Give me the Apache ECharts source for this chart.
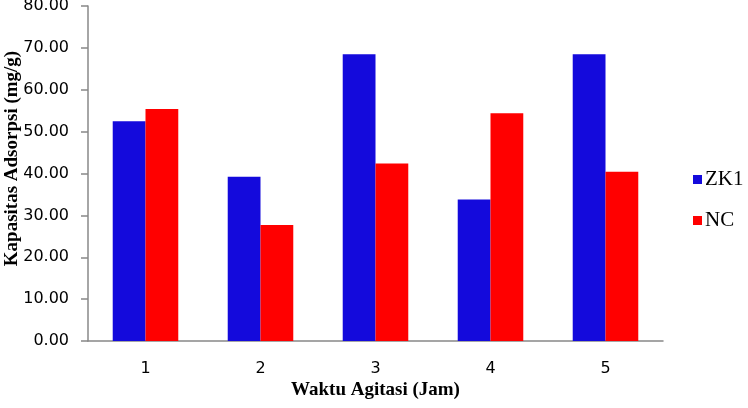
<!DOCTYPE html>
<html>
<head>
<meta charset="utf-8">
<script src="https://cdn.jsdelivr.net/npm/echarts@6/dist/echarts.min.js"></script>
<style>
    html, body { margin: 0; padding: 0; background: #fff; }
    #chart { width: 748px; height: 408px; }
</style>
</head>
<body>
<div id="chart"></div>
<script>
// data
var categories = ["1", "2", "3", "4", "5"];
var zk1Values = [52.5, 39.2, 68.5, 33.8, 68.5];
var ncValues = [55.4, 27.7, 42.4, 54.4, 40.4];
var seriesNames = ["ZK1", "NC"];

var chart = echarts.init(document.getElementById("chart"));
chart.setOption({
    animation: false,
    backgroundColor: "#fff",
    grid: {
        left: 88,
        right: 85,
        top: 6,
        bottom: 67,
        containLabel: false,
        outerBoundsMode: "none"
    },
    legend: {
        orient: "vertical",
        left: 688,
        top: 164,
        itemWidth: 9,
        itemHeight: 9,
        itemGap: 20,
        icon: "rect",
        textStyle: {
            fontFamily: "Liberation Serif",
            fontSize: 21,
            lineHeight: 20,
            color: "#000",
            padding: [0, 0, 0, -2]
        },
        data: seriesNames
    },
    xAxis: {
        type: "category",
        data: categories,
        name: "Waktu Agitasi (Jam)",
        nameLocation: "middle",
        nameGap: 40,
        nameMoveOverlap: false,
        nameTextStyle: {
            fontFamily: "Liberation Serif",
            fontWeight: "bold",
            fontSize: 19,
            color: "#000"
        },
        axisLine: { lineStyle: { color: "#888", width: 1.5 } },
        axisTick: { length: 6, lineStyle: { color: "#888", width: 1.5 } },
        axisLabel: {
            fontFamily: "DejaVu Sans",
            fontSize: 16,
            color: "#000",
            margin: 20
        }
    },
    yAxis: {
        type: "value",
        min: 0,
        max: 80,
        interval: 10,
        name: "Kapasitas Adsorpsi (mg/g)",
        nameLocation: "middle",
        nameRotate: 90,
        nameGap: 66,
        nameMoveOverlap: false,
        nameTextStyle: {
            fontFamily: "Liberation Serif",
            fontWeight: "bold",
            fontSize: 19,
            color: "#000",
            padding: [0, 0, 0, 30]
        },
        axisLine: { show: true, lineStyle: { color: "#888", width: 1.5 } },
        axisTick: { show: true, length: 7, lineStyle: { color: "#888", width: 1.5 } },
        splitLine: { show: false },
        axisLabel: {
            fontFamily: "DejaVu Sans",
            fontSize: 16,
            color: "#000",
            margin: 19,
            formatter: function (value) {
                return value.toFixed(2);
            }
        }
    },
    series: [
        {
            name: seriesNames[0],
            type: "bar",
            data: zk1Values,
            barGap: "0%",
            barCategoryGap: "43%",
            itemStyle: { color: "#140ADC" }
        },
        {
            name: seriesNames[1],
            type: "bar",
            data: ncValues,
            barGap: "0%",
            barCategoryGap: "43%",
            itemStyle: { color: "#FF0000" }
        }
    ]
});
</script>
</body>
</html>
